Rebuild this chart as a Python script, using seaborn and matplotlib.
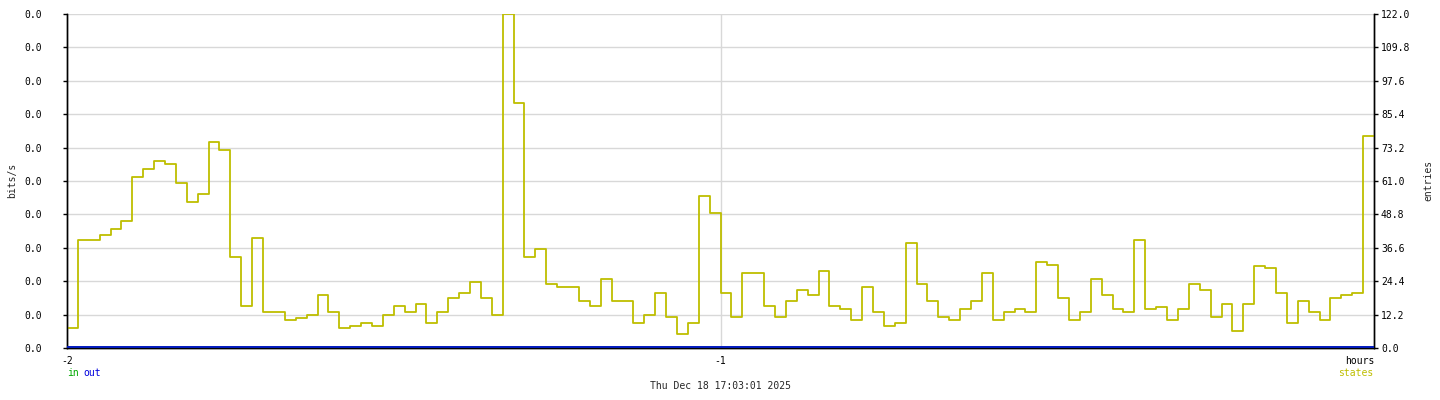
import numpy as np
import pandas as pd
import matplotlib
matplotlib.use("Agg")
import matplotlib.pyplot as plt
import matplotlib.transforms as mtransforms
import seaborn as sns

# state table entries, one sample per minute over the last two hours
states = [7.2, 39.3, 39.3, 41.2, 43.5, 46.4, 62.3, 65.3, 68.2, 67.2,
          60.1, 53.3, 56.2, 75.1, 72.3, 33.2, 15.3, 40.1, 13.0, 13.0,
          10.1, 11.1, 12.1, 19.2, 13.0, 7.3, 7.9, 9.0, 8.0, 12.1,
          15.2, 13.0, 16.1, 9.1, 13.0, 18.1, 20.0, 24.0, 18.1, 12.1,
          122.0, 89.4, 33.1, 36.0, 23.3, 22.3, 22.3, 17.2, 15.3, 25.1,
          17.1, 17.1, 9.0, 11.9, 20.0, 11.3, 5.0, 9.0, 55.5, 49.2,
          20.0, 11.3, 27.3, 27.3, 15.3, 11.3, 17.1, 21.1, 19.4, 28.1,
          15.3, 14.2, 10.2, 22.2, 13.0, 7.9, 9.0, 38.2, 23.4, 17.1,
          11.2, 10.2, 14.1, 17.1, 27.3, 10.2, 13.0, 14.1, 13.1, 31.3,
          30.3, 18.1, 10.2, 13.0, 25.1, 19.2, 14.1, 13.0, 39.4, 14.1,
          15.1, 10.1, 14.1, 23.3, 21.1, 11.2, 16.0, 6.1, 16.0, 30.1,
          29.1, 20.0, 9.0, 17.1, 13.0, 10.1, 18.1, 19.2, 20.0, 77.4]

# traffic was flat zero the whole time
in_bits = [0.0] * len(states)
out_bits = [0.0] * len(states)

right_ticks = [0.0, 12.2, 24.4, 36.6, 48.8, 61.0, 73.2, 85.4, 97.6, 109.8, 122.0]
left_labels = ["0.0"] * len(right_ticks)
x_ticks = [-2, -1, 0]
x_labels = ["-2", "-1", "hours"]
stamp = "Thu Dec 18 17:03:01 2025"

STATE_COL = "#BEBE00"
IN_COL = "#00AA00"
OUT_COL = "#0000DD"
GRID_COL = "#D8D8D8"

# minutes -> hours before now, last value repeated so the step reaches 0
hours = -2 + np.arange(len(states) + 1) / 60.0
df = pd.DataFrame({
    "hours": hours,
    "states": states + [states[-1]],
    "in": in_bits + [in_bits[-1]],
    "out": out_bits + [out_bits[-1]],
})

sns.set_theme(style="white")
plt.rcParams["font.family"] = ["DejaVu Sans Mono"]
plt.rcParams["font.size"] = 7

fig = plt.figure(figsize=(14.4, 4.0), dpi=100)
ax = fig.add_axes([67 / 1440, 1 - 348 / 400, (1374 - 67) / 1440, (348 - 14) / 400])
ax2 = ax.twinx()

ax.set_xlim(-2, 0)
ax.set_ylim(0, 122)
ax2.set_ylim(0, 122)

ax.set_yticks(right_ticks)
ax.set_yticklabels(left_labels)
ax2.set_yticks(right_ticks)
ax2.set_yticklabels([f"{v:.1f}" for v in right_ticks])
ax.set_xticks(x_ticks)
ax.set_xticklabels(x_labels)
ax.get_xticklabels()[-1].set_horizontalalignment("right")

ax.grid(axis="y", color=GRID_COL, linewidth=1.0)
ax.axvline(-1, color=GRID_COL, linewidth=1.0, zorder=0)

sns.lineplot(data=df, x="hours", y="in", ax=ax2, color=IN_COL, linewidth=1.2,
             drawstyle="steps-post")
sns.lineplot(data=df, x="hours", y="out", ax=ax2, color=OUT_COL, linewidth=1.2,
             drawstyle="steps-post")
sns.lineplot(data=df, x="hours", y="states", ax=ax2, color=STATE_COL, linewidth=1.3,
             drawstyle="steps-post")

# zero-lines sit one pixel above the x axis, like rrdtool draws them
lift = mtransforms.ScaledTranslation(0, 1.3 / 100, fig.dpi_scale_trans)
for line in ax2.lines[:2]:
    line.set_transform(ax2.transData + lift)
    line.set_zorder(5)

for a in (ax, ax2):
    a.set_xlabel("")
    a.set_ylabel("")
    a.spines["top"].set_visible(False)
    for s in ("left", "right", "bottom"):
        a.spines[s].set_color("black")
        a.spines[s].set_linewidth(1.0)

ax.tick_params(axis="y", direction="out", length=3, width=1, pad=15, labelsize=7, colors="black")
ax.tick_params(axis="x", direction="out", length=3, width=1, pad=3, labelsize=7, colors="black")
ax2.tick_params(axis="y", direction="out", length=3, width=1, pad=2, labelsize=7, colors="black")

fig.text(12 / 1440, 1 - 180 / 400, "bits/s", rotation=90, ha="center", va="center", fontsize=7)
fig.text(1428 / 1440, 1 - 180 / 400, "entries", rotation=90, ha="center", va="center", fontsize=7)
fig.text(67 / 1440, 1 - 373 / 400, "in", color=IN_COL, ha="left", va="center", fontsize=7)
fig.text(83 / 1440, 1 - 373 / 400, "out", color=OUT_COL, ha="left", va="center", fontsize=7)
fig.text(1373 / 1440, 1 - 373 / 400, "states", color=STATE_COL, ha="right", va="center", fontsize=7)
fig.text(720 / 1440, 1 - 386 / 400, stamp, ha="center", va="center", fontsize=7)

fig.savefig("out.png", dpi=100)
